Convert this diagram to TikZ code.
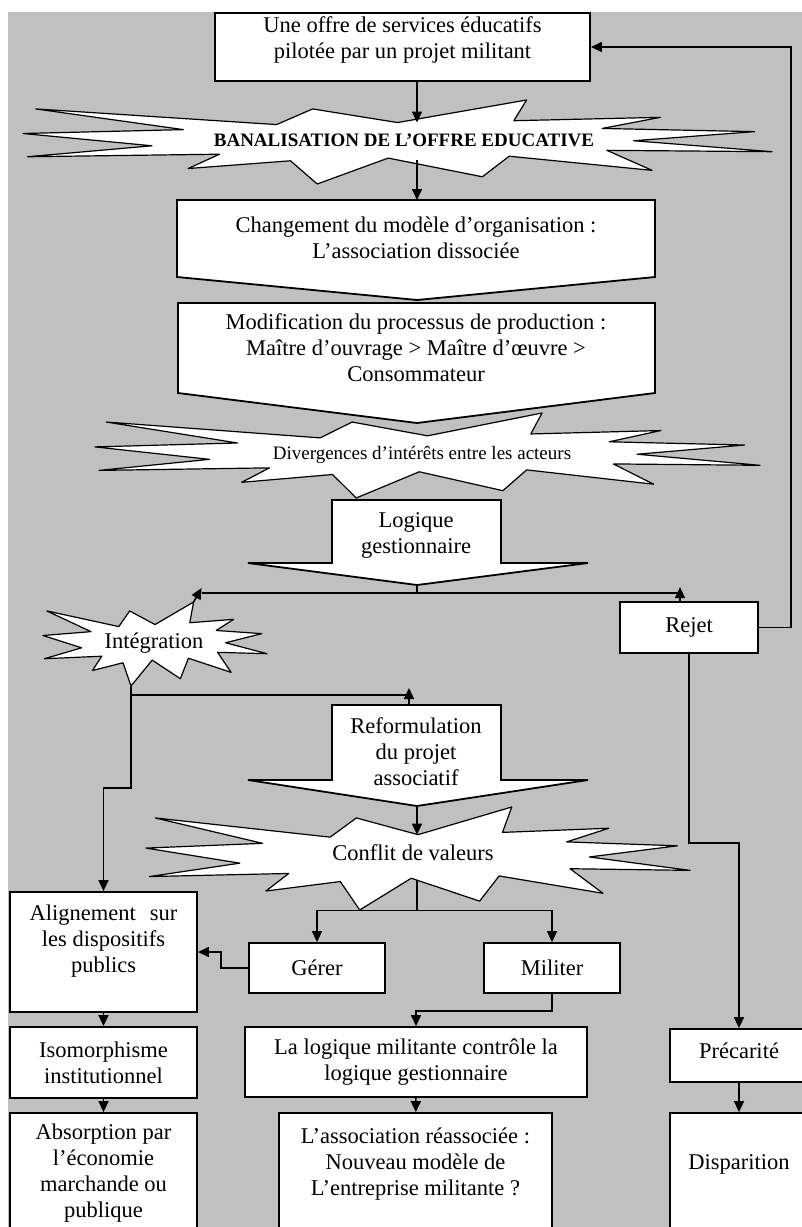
\documentclass[tikz,border=0pt]{standalone}
\usepackage{fontspec}
\setmainfont{Liberation Serif}
\usetikzlibrary{arrows.meta, positioning}
\newcommand\bigsize{\fontsize{22.5}{26}\selectfont}
\newcommand\smallsize{\fontsize{19}{22}\selectfont}
\definecolor{panel}{RGB}{192,192,192}

\begin{document}
\begin{tikzpicture}[x=1pt, y=-1pt, font=\bigsize,
                    >={Triangle[length=11pt,width=10pt]},
                    box/.style={draw, fill=white, line width=1.8pt, align=center, inner sep=0pt},
                    words/.style={align=center, inner sep=0pt},
                    callout/.style={draw, fill=white, line width=1.8pt},
                    link/.style={line width=1.5pt},
                    sealline/.style={draw, fill=white, line width=1.2pt, line join=round},
                    seal/.pic={
                      \path[sealline] (0.5,0.2685) -- (0.6723,0) -- (0.6553,0.2465) -- (0.8509,0.2063)
                        -- (0.7732,0.3387) -- (0.9767,0.3767) -- (0.8151,0.4850) -- (1,0.6153)
                        -- (0.7795,0.5992) -- (0.8400,0.8377) -- (0.6491,0.6693) -- (0.6133,0.9137)
                        -- (0.4876,0.6914) -- (0.3928,1) -- (0.3572,0.7235) -- (0.2205,0.8156)
                        -- (0.2624,0.6452) -- (0.0063,0.6753) -- (0.1723,0.5451) -- (0,0.3988)
                        -- (0.2142,0.3526) -- (0.0171,0.1063) -- (0.3385,0.2926) -- (0.3867,0.1063) -- cycle;
                      \coordinate (-top) at (0.5,0.2685);
                      \coordinate (-bottom) at (0.5,0.713);
                      \coordinate (-n) at (0.6723,0);
                      \coordinate (-s) at (0.3928,1);}]
    \def\mainx{417}
    \useasboundingbox (0,0) rectangle (802,1227);
    \clip (0,0) rectangle (802,1227);
    \fill[panel] (8,12) rectangle (802,1227);

    % upper chain
    \node (offre) [box, minimum width=375pt, minimum height=68pt, text depth=19pt] at (402.5,47) {Une offre de services éducatifs\\pilotée par un projet militant};
    \pic[xscale=749, yscale=84] (banalstar) at (23,100) {seal};
    \node (banal) [words, font=\smallsize\bfseries] at (404,140) {BANALISATION DE L’OFFRE EDUCATIVE};

    \path[callout] (177,200) -- (655,200) -- (655,277) -- (\mainx,300) -- (177,277) -- cycle;
    \node (chg) [words] at (416,238) {Changement du modèle d’organisation :\\L’association dissociée};
    \coordinate (chgtop) at (\mainx,200);

    \path[callout] (178,303) -- (655,303) -- (655,393) -- (\mainx,423) -- (178,393) -- cycle;
    \node (mod) [words] at (416,348) {Modification du processus de production :\\Maître d’ouvrage > Maître d’œuvre >\\Consommateur};

    \pic[xscale=665, yscale=85] (divstar) at (95,413) {seal};
    \node (div) [words, font=\smallsize] at (422,455) {Divergences d’intérêts entre les acteurs};

    \path[callout] (332,500) -- (501,500) -- (501,563) -- (588,563) -- (\mainx,585) -- (248,563) -- (332,563) -- cycle;
    \node (log) [words] at (416,535) {Logique\\gestionnaire};
    \coordinate (logtip) at (\mainx,585);

    % the two ways out
    \pic[xscale=224, yscale=84] (intstar) at (43,602) {seal};
    \node (int) [words] at (154,643) {Intégration};
    \node (rejet) [box, minimum width=138pt, minimum height=51pt] at (689,627.5) {Rejet};

    \path[callout] (332,705) -- (501,705) -- (501,780) -- (588,780) -- (\mainx,806) -- (248,780) -- (332,780) -- cycle;
    \node (reform) [words] at (416,752) {Reformulation\\du projet\\associatif};
    \coordinate (reformtop) at (409,705);
    \coordinate (reformtip) at (\mainx,806);

    \pic[xscale=544, yscale=103] (conflitstar) at (146,807) {seal};
    \node (conflit) [words] at (413,853) {Conflit de valeurs};

    % lower boxes
    \node (align)   [box, minimum width=187pt, minimum height=120pt, text depth=27pt] at (103.5,952) {Alignement\hspace{14pt}sur\\les dispositifs\\publics};
    \node (gerer)   [box, minimum width=136pt, minimum height=50pt] at (317,968) {Gérer};
    \node (militer) [box, minimum width=136pt, minimum height=50pt] at (552,968) {Militer};
    \node (iso)     [box, minimum width=187pt, minimum height=71pt] at (103.5,1062.5) {Isomorphisme\\institutionnel};
    \node (logmil)  [box, minimum width=342pt, minimum height=70pt] at (416,1062) {La logique militante contrôle la\\logique gestionnaire};
    \node (precar)  [box, minimum width=138pt, minimum height=53pt, text depth=10pt] at (739,1055.5) {Précarité};
    \node (absorp)  [box, minimum width=187pt, minimum height=120pt] at (103.5,1173) {Absorption par\\l’économie\\marchande ou\\publique};
    \node (assoc)   [box, minimum width=273pt, minimum height=132pt] at (415.5,1179) {L’association réassociée :\\Nouveau modèle de\\L’entreprise militante ?\\\strut};
    \node (dispar)  [box, minimum width=138pt, minimum height=132pt] at (739,1179) {Disparition\\\strut};

    % connectors
    \draw[link, ->] (offre.south -| chgtop) -- (chgtop |- banalstar-top);
    \draw[link, ->] (chgtop |- banalstar-bottom) -- (chgtop);
    \draw[link] (logtip) -- ++(0,8) coordinate (split) -- ([xshift=8pt]split -| intstar-n);
    \draw[link] (split) -| ([xshift=-9pt]rejet.north);
    \draw[link, ->] (intstar-n) -- ++(8,-14);
    \draw[link, ->] ([xshift=-9pt]rejet.north) -- ++(0,-14);
    \draw[link, ->] (rejet.east) -- ++(32,0) |- (offre.east);
    \draw[link] (intstar-s) |- ([yshift=10pt]reformtop);
    \draw[link, ->] (reformtop) -- ++(0,-17);
    \draw[link, ->] (intstar-s) -- ++(0,102) -| (align.north);
    \draw[link, ->] (reformtip) -- (reformtip |- conflitstar-top);
    \draw[link] (reformtip |- conflitstar-bottom) -- ++(0,30) coordinate (split2);
    \draw[link, ->] (split2) -| (gerer.north);
    \draw[link, ->] (split2) -| (militer.north);
    \draw[link, ->] (gerer.west) -- ++(-27,0) |- (align.east);
    \draw[link, ->] (militer.south) -- ++(0,17) -| (logmil.north);
    \draw[link, ->] (rejet.south) -- ++(0,189) -| (precar.north);
    \path[link, ->] (align)  edge (iso)
                    (iso)    edge (absorp)
                    (logmil) edge (assoc)
                    (precar) edge (dispar);
\end{tikzpicture}
\end{document}
